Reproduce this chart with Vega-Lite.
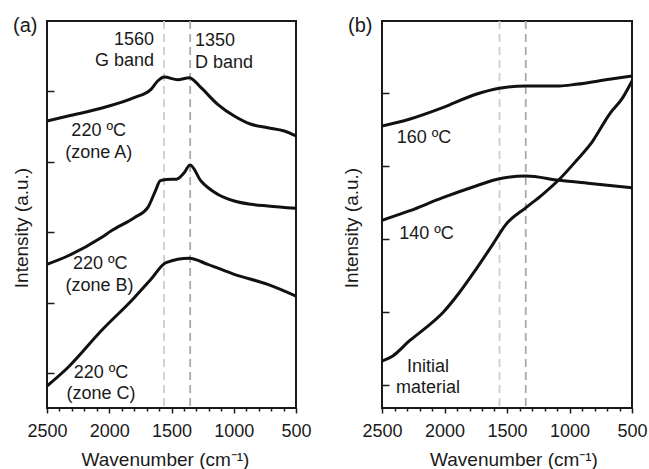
{
  "$schema": "https://vega.github.io/schema/vega-lite/v6.json",
  "padding": {"left": 11, "top": 15, "right": 5, "bottom": 5},
  "bounds": "flush",
  "spacing": 86,
  "config": {
    "font": "Liberation Sans",
    "view": {"stroke": "#1a1a1a", "strokeWidth": 2},
    "axis": {"domain": false, "grid": false, "labelFont": "Liberation Sans", "titleFont": "Liberation Sans", "labelColor": "#1a1a1a", "titleColor": "#1a1a1a", "tickColor": "#1a1a1a", "tickWidth": 1.5, "titleFontWeight": "normal", "labelFontSize": 18, "titleFontSize": 19},
    "text": {"font": "Liberation Sans", "fontSize": 18, "color": "#1a1a1a"}
  },
  "datasets": {
    "bands": [{"wn": 1560, "band": "G"}, {"wn": 1350, "band": "D"}],
    "a": [
      {"series": "A", "wn": 2500, "v": 4.574}, {"series": "A", "wn": 2331, "v": 4.645}, {"series": "A", "wn": 2066, "v": 4.755}, {"series": "A", "wn": 1801, "v": 4.905}, {"series": "A", "wn": 1665, "v": 5.024}, {"series": "A", "wn": 1611, "v": 5.142}, {"series": "A", "wn": 1558, "v": 5.199}, {"series": "A", "wn": 1450, "v": 5.160}, {"series": "A", "wn": 1357, "v": 5.189}, {"series": "A", "wn": 1263, "v": 5.047}, {"series": "A", "wn": 1129, "v": 4.811}, {"series": "A", "wn": 996, "v": 4.645}, {"series": "A", "wn": 861, "v": 4.528}, {"series": "A", "wn": 727, "v": 4.479}, {"series": "A", "wn": 594, "v": 4.433}, {"series": "A", "wn": 500, "v": 4.362},
      {"series": "B", "wn": 2500, "v": 2.542}, {"series": "B", "wn": 2334, "v": 2.660}, {"series": "B", "wn": 2066, "v": 2.919}, {"series": "B", "wn": 1986, "v": 3.014}, {"series": "B", "wn": 1799, "v": 3.203}, {"series": "B", "wn": 1691, "v": 3.345}, {"series": "B", "wn": 1630, "v": 3.580}, {"series": "B", "wn": 1590, "v": 3.730}, {"series": "B", "wn": 1540, "v": 3.745}, {"series": "B", "wn": 1460, "v": 3.750}, {"series": "B", "wn": 1400, "v": 3.837}, {"series": "B", "wn": 1351, "v": 3.950}, {"series": "B", "wn": 1263, "v": 3.723}, {"series": "B", "wn": 1129, "v": 3.535}, {"series": "B", "wn": 996, "v": 3.440}, {"series": "B", "wn": 861, "v": 3.393}, {"series": "B", "wn": 727, "v": 3.369}, {"series": "B", "wn": 500, "v": 3.336},
      {"series": "C", "wn": 2500, "v": 0.816}, {"series": "C", "wn": 2334, "v": 1.075}, {"series": "C", "wn": 2066, "v": 1.596}, {"series": "C", "wn": 1799, "v": 2.068}, {"series": "C", "wn": 1665, "v": 2.329}, {"series": "C", "wn": 1544, "v": 2.565}, {"series": "C", "wn": 1357, "v": 2.627}, {"series": "C", "wn": 1209, "v": 2.542}, {"series": "C", "wn": 996, "v": 2.400}, {"series": "C", "wn": 727, "v": 2.258}, {"series": "C", "wn": 500, "v": 2.092}
    ],
    "b": [
      {"series": "160", "wn": 2500, "v": 4.548}, {"series": "160", "wn": 2282, "v": 4.640}, {"series": "160", "wn": 2014, "v": 4.799}, {"series": "160", "wn": 1748, "v": 4.982}, {"series": "160", "wn": 1561, "v": 5.064}, {"series": "160", "wn": 1348, "v": 5.096}, {"series": "160", "wn": 1081, "v": 5.096}, {"series": "160", "wn": 948, "v": 5.119}, {"series": "160", "wn": 681, "v": 5.188}, {"series": "160", "wn": 500, "v": 5.233},
      {"series": "140", "wn": 2500, "v": 3.256}, {"series": "140", "wn": 2282, "v": 3.384}, {"series": "140", "wn": 2014, "v": 3.566}, {"series": "140", "wn": 1748, "v": 3.726}, {"series": "140", "wn": 1561, "v": 3.826}, {"series": "140", "wn": 1348, "v": 3.863}, {"series": "140", "wn": 1081, "v": 3.804}, {"series": "140", "wn": 814, "v": 3.758}, {"series": "140", "wn": 500, "v": 3.703},
      {"series": "init", "wn": 2500, "v": 1.329}, {"series": "init", "wn": 2414, "v": 1.397}, {"series": "init", "wn": 2282, "v": 1.603}, {"series": "init", "wn": 2148, "v": 1.785}, {"series": "init", "wn": 2014, "v": 1.990}, {"series": "init", "wn": 1882, "v": 2.264}, {"series": "init", "wn": 1748, "v": 2.585}, {"series": "init", "wn": 1614, "v": 2.927}, {"series": "init", "wn": 1508, "v": 3.200}, {"series": "init", "wn": 1348, "v": 3.429}, {"series": "init", "wn": 1214, "v": 3.612}, {"series": "init", "wn": 1081, "v": 3.818}, {"series": "init", "wn": 948, "v": 4.068}, {"series": "init", "wn": 814, "v": 4.342}, {"series": "init", "wn": 681, "v": 4.708}, {"series": "init", "wn": 574, "v": 4.936}, {"series": "init", "wn": 500, "v": 5.164}
    ],
    "ann_a": [
      {"pos": "right", "wn": 1641, "v": 5.72, "label": "1560"},
      {"pos": "right", "wn": 1641, "v": 5.43, "label": "G band"},
      {"pos": "left", "wn": 1311, "v": 5.71, "label": "1350"},
      {"pos": "left", "wn": 1311, "v": 5.40, "label": "D band"},
      {"pos": "center", "wn": 2085, "v": 4.43, "label": "220 ºC"},
      {"pos": "center", "wn": 2085, "v": 4.12, "label": "(zone A)"},
      {"pos": "center", "wn": 2072, "v": 2.55, "label": "220 ºC"},
      {"pos": "center", "wn": 2078, "v": 2.23, "label": "(zone B)"},
      {"pos": "center", "wn": 2066, "v": 1.00, "label": "220 ºC"},
      {"pos": "center", "wn": 2066, "v": 0.70, "label": "(zone C)"}
    ],
    "ann_b": [
      {"wn": 2164, "v": 4.38, "label": "160 ºC"},
      {"wn": 2144, "v": 3.07, "label": "140 ºC"},
      {"wn": 2132, "v": 1.25, "label": "Initial"},
      {"wn": 2132, "v": 0.96, "label": "material"}
    ]
  },
  "hconcat": [
    {
      "width": 249,
      "height": 387,
      "title": {"text": "(a)", "anchor": "start", "frame": "group", "offset": 0, "dx": -34, "dy": 32, "baseline": "alphabetic", "fontSize": 20, "fontWeight": "normal", "font": "Liberation Sans", "color": "#1a1a1a"},
      "resolve": {"axis": {"x": "independent"}},
      "layer": [
        {
          "data": {"name": "bands"},
          "mark": {"type": "rule", "strokeDash": [8, 5], "strokeWidth": 1.8},
          "encoding": {
            "x": {"field": "wn", "type": "quantitative", "scale": {"domain": [500, 2500], "reverse": true, "nice": false, "zero": false},
              "axis": {"orient": "bottom", "values": [2500, 2000, 1500, 1000, 500], "format": "d", "tickSize": 5, "labelPadding": 9, "labelFlush": false, "labelOverlap": false, "title": "Wavenumber (cm⁻¹)", "titleX": 118, "titleY": 57, "titleBaseline": "alphabetic", "titleAlign": "center", "titleAnchor": null}},
            "color": {"field": "band", "type": "nominal", "scale": {"domain": ["G", "D"], "range": ["#cdcdcd", "#a9a9a9"]}, "legend": null}
          }
        },
        {
          "data": {"name": "a"},
          "mark": {"type": "line", "interpolate": "monotone", "strokeWidth": 3, "color": "#111111", "clip": true},
          "encoding": {
            "x": {"field": "wn", "type": "quantitative", "scale": {"domain": [500, 2500], "reverse": true, "nice": false, "zero": false},
              "axis": {"orient": "bottom", "values": [2400, 2300, 2200, 2100, 1900, 1800, 1700, 1600, 1400, 1300, 1200, 1100, 900, 800, 700, 600], "labels": false, "tickSize": 3, "title": null, "offset": 0}},
            "y": {"field": "v", "type": "quantitative", "scale": {"domain": [0.504, 5.993], "nice": false, "zero": false},
              "axis": {"values": [1, 2, 3, 4, 5], "labels": false, "tickSize": -7, "title": "Intensity (a.u.)", "titleX": -25.5, "titleY": 206.5, "titleBaseline": "middle", "titleAlign": "center", "titleAngle": -90}},
            "detail": {"field": "series", "type": "nominal"}
          }
        },
        {
          "data": {"name": "ann_a"},
          "transform": [{"filter": "datum.pos === 'right'"}],
          "mark": {"type": "text", "align": "right", "baseline": "middle"},
          "encoding": {
            "x": {"field": "wn", "type": "quantitative", "scale": {"domain": [500, 2500], "reverse": true, "nice": false, "zero": false}, "axis": null},
            "y": {"field": "v", "type": "quantitative", "scale": {"domain": [0.504, 5.993], "nice": false, "zero": false}},
            "text": {"field": "label"}
          }
        },
        {
          "data": {"name": "ann_a"},
          "transform": [{"filter": "datum.pos === 'left'"}],
          "mark": {"type": "text", "align": "left", "baseline": "middle"},
          "encoding": {
            "x": {"field": "wn", "type": "quantitative", "scale": {"domain": [500, 2500], "reverse": true, "nice": false, "zero": false}, "axis": null},
            "y": {"field": "v", "type": "quantitative", "scale": {"domain": [0.504, 5.993], "nice": false, "zero": false}},
            "text": {"field": "label"}
          }
        },
        {
          "data": {"name": "ann_a"},
          "transform": [{"filter": "datum.pos === 'center'"}],
          "mark": {"type": "text", "align": "center", "baseline": "middle"},
          "encoding": {
            "x": {"field": "wn", "type": "quantitative", "scale": {"domain": [500, 2500], "reverse": true, "nice": false, "zero": false}, "axis": null},
            "y": {"field": "v", "type": "quantitative", "scale": {"domain": [0.504, 5.993], "nice": false, "zero": false}},
            "text": {"field": "label"}
          }
        }
      ]
    },
    {
      "width": 250,
      "height": 387,
      "title": {"text": "(b)", "anchor": "start", "frame": "group", "offset": 0, "dx": -34, "dy": 32, "baseline": "alphabetic", "fontSize": 20, "fontWeight": "normal", "font": "Liberation Sans", "color": "#1a1a1a"},
      "resolve": {"axis": {"x": "independent"}},
      "layer": [
        {
          "data": {"name": "bands"},
          "mark": {"type": "rule", "strokeDash": [8, 5], "strokeWidth": 1.8},
          "encoding": {
            "x": {"field": "wn", "type": "quantitative", "scale": {"domain": [500, 2500], "reverse": true, "nice": false, "zero": false},
              "axis": {"orient": "bottom", "values": [2500, 2000, 1500, 1000, 500], "format": "d", "tickSize": 5, "labelPadding": 9, "labelFlush": false, "labelOverlap": false, "title": "Wavenumber (cm⁻¹)", "titleX": 131.5, "titleY": 57, "titleBaseline": "alphabetic", "titleAlign": "center", "titleAnchor": null}},
            "color": {"field": "band", "type": "nominal", "scale": {"domain": ["G", "D"], "range": ["#cdcdcd", "#a9a9a9"]}, "legend": null}
          }
        },
        {
          "data": {"name": "b"},
          "mark": {"type": "line", "interpolate": "monotone", "strokeWidth": 3, "color": "#111111", "clip": true},
          "encoding": {
            "x": {"field": "wn", "type": "quantitative", "scale": {"domain": [500, 2500], "reverse": true, "nice": false, "zero": false},
              "axis": {"orient": "bottom", "values": [2400, 2300, 2200, 2100, 1900, 1800, 1700, 1600, 1400, 1300, 1200, 1100, 900, 800, 700, 600], "labels": false, "tickSize": 3, "title": null, "offset": 0}},
            "y": {"field": "v", "type": "quantitative", "scale": {"domain": [0.685, 5.986], "nice": false, "zero": false},
              "axis": {"values": [1, 2, 3, 4, 5], "labels": false, "tickSize": -7, "title": "Intensity (a.u.)", "titleX": -30.5, "titleY": 206.5, "titleBaseline": "middle", "titleAlign": "center", "titleAngle": -90}},
            "detail": {"field": "series", "type": "nominal"}
          }
        },
        {
          "data": {"name": "ann_b"},
          "mark": {"type": "text", "align": "center", "baseline": "middle"},
          "encoding": {
            "x": {"field": "wn", "type": "quantitative", "scale": {"domain": [500, 2500], "reverse": true, "nice": false, "zero": false}, "axis": null},
            "y": {"field": "v", "type": "quantitative", "scale": {"domain": [0.685, 5.986], "nice": false, "zero": false}},
            "text": {"field": "label"}
          }
        }
      ]
    }
  ]
}
